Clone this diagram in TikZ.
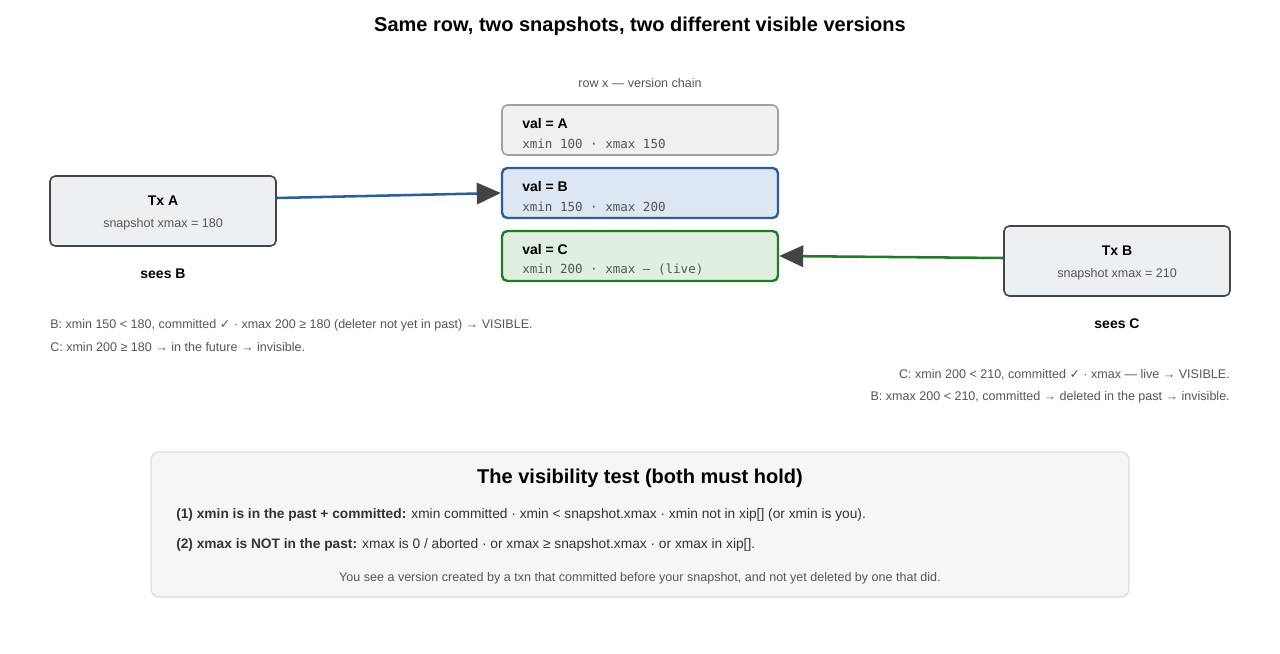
\documentclass[tikz,border=0pt]{standalone}
\usepackage{fontspec}
\setmainfont{Liberation Sans}
\setmonofont{DejaVu Sans Mono}
\newfontfamily\symfont{DejaVu Sans}
\usepackage{xcolor}
\usetikzlibrary{arrows.meta,positioning}

\definecolor{txtgray}{HTML}{555555}
\definecolor{headgray}{HTML}{444444}
\definecolor{oldfill}{HTML}{F0F0F0}
\definecolor{oldline}{HTML}{A0A0A0}
\definecolor{bluefill}{HTML}{DCE7F3}
\definecolor{blueline}{HTML}{2C5F97}
\definecolor{greenfill}{HTML}{DFF0E1}
\definecolor{greenline}{HTML}{237A24}
\definecolor{txfill}{HTML}{EDF0F3}
\definecolor{txline}{HTML}{454545}
\definecolor{testfill}{HTML}{F6F6F6}
\definecolor{testline}{HTML}{DDDDDD}

\newcommand{\chk}{{\symfont\char"2713}}

\begin{document}
\begin{tikzpicture}[x=0.75pt, y=-0.75pt]
\tikzstyle{version} = [rectangle, rounded corners=4pt, minimum width=207pt, minimum height=37.5pt, line width=1.8pt]
\tikzstyle{txbox} = [rectangle, draw=txline, fill=txfill, rounded corners=4pt, minimum width=169.5pt, minimum height=52.5pt, line width=1.2pt]
\tikzstyle{valtxt} = [anchor=west, inner sep=0, font=\bfseries\fontsize{10.5}{12}\selectfont]
\tikzstyle{idtxt} = [anchor=west, inner sep=0, text=txtgray, font=\ttfamily\fontsize{9.4}{11}\selectfont]
\tikzstyle{note} = [inner sep=0, text=txtgray, font=\fontsize{9.4}{11}\selectfont]
\tikzstyle{seelbl} = [inner sep=0, font=\bfseries\fontsize{10.5}{12}\selectfont]
\tikzstyle{rule} = [anchor=west, inner sep=0, text=black!80, font=\fontsize{10.3}{12}\selectfont]
\tikzstyle{arrow} = [line width=1.9pt, -{Triangle[length=18pt, width=16pt, color=headgray]}]

\useasboundingbox (0,0) rectangle (1280,653);

\node[font=\bfseries\fontsize{15}{18}\selectfont] (title) at (640,26) {Same row, two snapshots, two different visible versions};
\node[note] (chain) at (640,83) {row x — version chain};

% version chain
\node[version, draw=oldline, fill=oldfill, line width=1.2pt] (va) at (640,130) {};
\node[version, draw=blueline, fill=bluefill] (vb) at (640,193) {};
\node[version, draw=greenline, fill=greenfill] (vc) at (640,256) {};
\node[valtxt] (vala) at (522,123) {val = A};
\node[idtxt] (ida) at (522,144) {xmin 100 · xmax 150};
\node[valtxt] (valb) at (522,186) {val = B};
\node[idtxt] (idb) at (522,207) {xmin 150 · xmax 200};
\node[valtxt] (valc) at (522,249) {val = C};
\node[idtxt] (idc) at (522,270) {xmin 200 · xmax — (live)};

% transactions
\node[txbox] (txa) at (163,211) {};
\node[seelbl] at (163,201) {Tx A};
\node[note] at (163,224) {snapshot xmax = 180};
\node[seelbl, below=16pt of txa] (seesa) {sees B};

\node[txbox] (txb) at (1117,261) {};
\node[seelbl] at (1117,251) {Tx B};
\node[note] at (1117,274) {snapshot xmax = 210};
\node[seelbl, below=16pt of txb] (seesb) {sees C};

\draw[arrow, blueline] ([yshift=9.75pt]txa.east) -- (vb.west);
\draw[arrow, greenline] ([yshift=2.25pt]txb.west) -- (vc.east);

\node[note, anchor=west] (whya1) at (50,325) {B: xmin 150 < 180, committed \chk\ · xmax 200 ≥ 180 (deleter not yet in past) → VISIBLE.};
\node[note, anchor=west] (whya2) at (50,347) {C: xmin 200 ≥ 180 → in the future → invisible.};
\node[note, anchor=east] (whyb1) at (1230,375) {C: xmin 200 < 210, committed \chk\ · xmax — live → VISIBLE.};
\node[note, anchor=east] (whyb2) at (1230,397) {B: xmax 200 < 210, committed → deleted in the past → invisible.};

% the test
\node[rectangle, draw=testline, fill=testfill, rounded corners=6pt, line width=0.9pt, minimum width=733.5pt, minimum height=108.75pt] (test) at (640,524.5) {};
\node[font=\bfseries\fontsize{15}{18}\selectfont] (testttl) at (640,478) {The visibility test (both must hold)};
\node[rule] (rule1) at (176,515) {\textbf{(1) xmin is in the past + committed:} xmin committed · xmin < snapshot.xmax · xmin not in xip[] (or xmin is you).};
\node[rule] (rule2) at (176,545) {\textbf{(2) xmax is NOT in the past:} xmax is 0 / aborted · or xmax ≥ snapshot.xmax · or xmax in xip[].};
\node[note] (gist) at (640,578) {You see a version created by a txn that committed before your snapshot, and not yet deleted by one that did.};
\end{tikzpicture}
\end{document}
